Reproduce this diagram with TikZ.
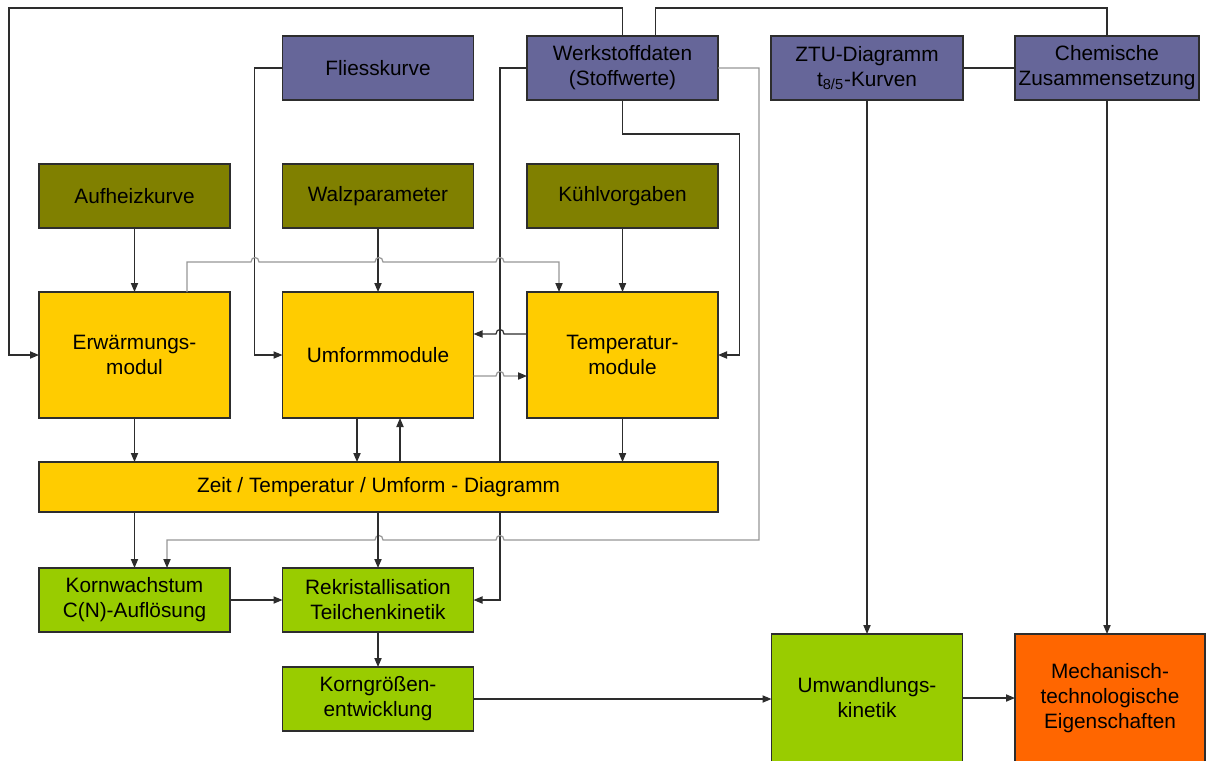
\documentclass[tikz,border=0pt]{standalone}
\usepackage{fontspec}
\setmainfont{Liberation Sans}
\usetikzlibrary{arrows.meta,calc,backgrounds}
\definecolor{cPurple}{RGB}{102,102,153}
\definecolor{cOlive}{RGB}{128,128,0}
\definecolor{cGold}{RGB}{255,204,0}
\definecolor{cLime}{RGB}{153,204,0}
\definecolor{cOrange}{RGB}{255,102,0}
\definecolor{cLine}{RGB}{45,45,45}
\definecolor{cFeed}{RGB}{150,150,150}
% small hop over a crossing line (going right / going left)
\newcommand\hopR[2]{-- (#1-4,#2) .. controls (#1-4,#2-6) and (#1+4,#2-6) .. (#1+4,#2)}
\newcommand\hopL[2]{-- (#1+4,#2) .. controls (#1+4,#2-6) and (#1-4,#2-6) .. (#1-4,#2)}

\begin{document}
\begin{tikzpicture}[
    x=0.5pt, y=-0.5pt,
    box/.style={rectangle,draw=cLine,line width=0.6pt,inner sep=0pt,outer sep=0pt,align=center,
      font=\fontsize{10.4}{12.5}\selectfont,minimum width=95.5pt,minimum height=32pt},
    data/.style={box,fill=cPurple},
    param/.style={box,fill=cOlive},
    module/.style={box,fill=cGold,minimum height=63pt},
    micro/.style={box,fill=cLime},
    conn/.style={draw=cLine,line width=0.6pt},
    feed/.style={draw=cFeed,line width=0.6pt,-{Triangle[length=4.5pt,width=3.6pt,color=cLine]}},
    >={Triangle[length=4.5pt,width=3.6pt]}
  ]
  \useasboundingbox (0,0) rectangle (1208,760);
  % Werkstoffdaten row
  \node[data] (fliess) at (378,68) {Fliesskurve};
  \node[data] (werk) at (622.5,68) {Werkstoffdaten\\(Stoffwerte)};
  \node[data,minimum width=96pt] (ztu) at (867,68) {ZTU-Diagramm\\t\textsubscript{8/5}-Kurven};
  \node[data,minimum width=92pt] (chem) at (1107,68) {Chemische\\Zusammensetzung};
  % Prozessvorgaben
  \node[param] (aufheiz) at (134.5,196) {Aufheizkurve};
  \node[param] (walz) at (378,196) {Walzparameter};
  \node[param] (kuehl) at (622.5,196) {Kühlvorgaben};
  % Module
  \node[module] (erw) at (134.5,355) {Erwärmungs-\\modul};
  \node[module] (umform) at (378,355) {Umformmodule};
  \node[module] (temp) at (622.5,355) {Temperatur-\\module};
  \node[box,fill=cGold,minimum width=339.5pt,minimum height=25pt] (bar) at (378.5,487) {Zeit / Temperatur / Umform - Diagramm};
  % Gefuege
  \node[micro] (korn) at (134.5,600) {Kornwachstum\\C(N)-Auflösung};
  \node[micro] (rekri) at (378,600) {Rekristallisation\\Teilchenkinetik};
  \node[micro] (korngr) at (378,699) {Korngrößen-\\entwicklung};
  \node[micro,minimum height=64pt] (umw) at (867,698) {Umwandlungs-\\kinetik};
  \node[box,fill=cOrange,minimum width=95pt,minimum height=64pt] (mech) at (1110,698) {Mechanisch-\\technologische\\Eigenschaften};

  % Werkstoffdaten lines
  \coordinate (corner) at (9,8);
  \draw[conn,->] (werk.north) |- (corner) |- (erw.west);
  \draw[conn] ($(werk.north)+(33,0)$) -- ++(0,-28) -| (chem.north);
  \draw[conn,->] (fliess.west) -- ++(-28,0) |- (umform.west);
  \begin{scope}[on background layer]
    \draw[conn,->] (werk.west) -- ++(-27,0) |- (rekri.east);
  \end{scope}
  \draw[conn,->] (werk.south) -- ++(0,34) -- ++(117,0) |- (temp.east);
  \draw[feed] (werk.east) -- ++(41,0) -- ++(0,472) \hopL{500}{540} \hopL{379}{540} -| ($(korn.north)+(32.5,0)$);
  \draw[conn] (ztu) -- (chem);
  % Vorgaben -> Module
  \foreach \a/\b in {aufheiz/erw, walz/umform, kuehl/temp}
    \draw[conn,->] (\a) -- (\b);
  \draw[feed] ($(erw.north)+(52.5,0)$) -- ++(0,-30) \hopR{255}{262} \hopR{379}{262} \hopR{500}{262} -| ($(temp.north)+(-63.5,0)$);
  \draw[feed] ($(umform.east)+(0,21)$) \hopR{500}{376} -- ($(temp.west)+(0,21)$);
  \draw[conn,->] ($(temp.west)+(0,-21)$) \hopL{500}{334} -- ($(umform.east)+(0,-21)$);
  % Module <-> Diagramm
  \foreach \m in {erw,temp}
    \draw[conn,->] (\m.south) -- (\m.south |- bar.north);
  \draw[conn,->] ($(umform.south)+(-21,0)$) -- ++(0,44);
  \draw[conn,<-] ($(umform.south)+(22,0)$) -- ++(0,44);
  % Diagramm -> Gefuege
  \draw[conn,->] (korn.north |- bar.south) -- (korn.north);
  \draw[conn,->] (rekri.north |- bar.south) -- (rekri.north);
  \draw[conn,->] (korn) -- (rekri);
  \draw[conn,->] (rekri) -- (korngr);
  \draw[conn,->] (korngr.east) -- (korngr.east -| umw.west);
  \draw[conn,->] (ztu) -- (umw);
  \draw[conn,->] (chem.south) -- (chem.south |- mech.north);
  \draw[conn,->] (umw) -- (mech);
\end{tikzpicture}
\end{document}
